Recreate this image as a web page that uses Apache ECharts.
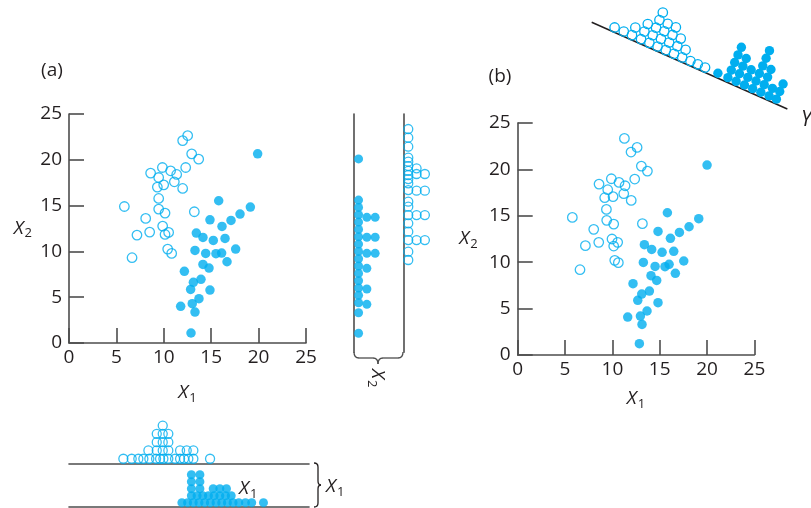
<!DOCTYPE html>
<html><head><meta charset="utf-8">
<script src="https://cdn.jsdelivr.net/npm/echarts@6/dist/echarts.min.js"></script>
<style>html,body{margin:0;padding:0;background:#fff}#c{width:811px;height:508px}</style>
</head><body><div id="c"></div>
<script>
// ---------- data ----------
// panel (a) scatter
const aHollowX1 = [12.52,11.99,12.94,13.68,9.85,8.61,10.72,11.36,12.31,9.46,11.11,9.32,9.99,11.99,9.46,5.84,9.46,10.13,13.22,8.09,9.88,8.51,10.51,10.13,7.17,10.41,10.83,6.65];
const aHollowX2 = [22.65,22.1,20.65,20.07,19.16,18.55,18.8,18.4,19.16,18.07,17.6,17.02,17.27,16.87,15.78,14.9,14.62,14.18,14.33,13.6,12.76,12.11,12.07,11.85,11.78,10.25,9.78,9.31];
const aFilledX1 = [19.9,15.79,19.13,18.04,17.09,14.87,16.14,13.43,14.13,15.22,16.46,13.29,14.42,15.5,16.1,17.58,14.13,14.77,16.67,12.17,13.12,13.92,12.83,14.87,13.71,13.0,11.78,13.29,12.87];
const aFilledX2 = [20.65,15.53,14.84,14.07,13.38,13.45,12.73,12.0,11.53,11.2,11.42,10.11,9.78,9.75,9.82,10.25,8.58,8.18,8.87,7.82,6.62,6.95,5.85,5.78,4.84,4.29,4.0,3.38,1.09];
// panel (b) scatter
const bHollowX1 = [11.27,12.61,11.97,13.06,13.7,9.89,10.7,8.59,11.34,12.36,9.51,10.07,9.19,11.2,11.99,9.37,5.77,9.4,10.14,13.17,8.03,9.96,8.56,10.56,10.14,7.15,10.25,10.63,6.58];
const bHollowX2 = [23.34,22.37,21.87,20.36,19.82,18.99,18.6,18.42,18.24,18.96,17.81,17.06,16.95,17.38,16.66,15.69,14.83,14.51,14.11,14.15,13.54,12.5,12.14,12.14,11.74,11.78,10.2,9.95,9.19];
const bFilledX1 = [20.0,15.81,19.12,18.1,17.08,14.82,16.13,13.38,14.15,15.25,16.48,13.27,14.51,15.56,15.99,17.54,16.65,14.08,14.68,12.18,13.1,13.91,12.68,14.82,13.66,12.96,11.62,13.13,12.85];
const bFilledX2 = [20.47,15.33,14.69,13.82,13.21,13.32,12.57,11.89,11.38,11.06,11.17,9.98,9.55,9.52,9.77,10.13,8.8,8.55,8.04,7.68,6.57,6.89,5.89,5.64,4.74,4.2,4.09,3.3,1.22];
// X2 dot plot (value, stack column)
const x2FilledValues  = [20.1,15.6,14.8,14.0,13.2,12.4,11.6,10.8,10.0,9.2,8.4,7.6,6.8,6.0,5.2,4.4,3.3,1.06, 13.72,11.54,9.79,8.15,5.9,4.22, 13.72,11.54,9.79];
const x2FilledColumns = [0,0,0,0,0,0,0,0,0,0,0,0,0,0,0,0,0,0, 1,1,1,1,1,1, 2,2,2];
const x2HollowValues  = [23.36,22.41,21.43,20.23,19.79,19.32,18.8,18.34,17.9,17.43,16.7,15.43,14.88,13.97,13.07,12.15,11.24,9.97,9.06, 19.07,18.45,16.63,13.97,11.24, 18.45,16.63,13.97,11.24];
const x2HollowColumns = [0,0,0,0,0,0,0,0,0,0,0,0,0,0,0,0,0,0,0, 1,1,1,1,1, 2,2,2,2];
// X1 dot plot (value, stack level)
const x1HollowValues = [5.73,6.61,7.31,7.84,8.47,9.18,9.6,9.95,10.47,11.18,11.71,12.13,12.58,13.11,14.87, 8.37,9.25,9.88,10.47,11.71,12.41,13.11, 9.25,9.88,10.47, 9.25,9.88,10.47, 9.88];
const x1HollowLevels = [0,0,0,0,0,0,0,0,0,0,0,0,0,0,0, 1,1,1,1,1,1,1, 2,2,2, 3,3,3, 4];
const x1FilledValues = [11.9,12.5,13.1,13.7,14.3,14.9,15.5,16.1,16.7,17.3,17.9,18.6,19.26,20.5, 12.9,13.5,14.1,14.7,15.3,15.9,16.5,17.1, 12.9,13.8,15.2,15.9,16.6, 12.9,13.8, 12.9,13.8];
const x1FilledLevels = [0,0,0,0,0,0,0,0,0,0,0,0,0,0, 1,1,1,1,1,1,1,1, 2,2,2,2,2, 3,3, 4,4];
// Y dot plot (value along Y, stack level)
const yHollowValues = [2.69,3.86,4.91,4.91,6.07,6.07,6.07,7.13,7.13,7.13,7.13,7.13,8.18,8.18,8.18,8.18,9.23,9.23,9.23,9.23,10.28,10.28,10.28,11.33,11.33,12.38,13.32,14.25];
const yHollowLevels = [0,0,0,1,0,1,2,0,1,2,3,4,0,1,2,3,0,1,2,3,0,1,2,0,1,0,0,0];
const yFilledValues = [15.89,17.17,17.17,17.17,17.17,17.17,18.22,18.22,18.22,18.22,19.28,19.28,19.28,20.33,20.33,20.33,20.33,20.33,20.33,21.38,21.38,21.38,21.38,22.43,22.43,23.36,23.36,23.36];
const yFilledLevels = [0,0,1,2,3,4,0,1,2,3,0,1,2,0,1,2,3,4,5,0,1,2,3,0,1,0,1,2];
const tickStep = 5;

// ---------- style ----------
const BLUE = '#00aeef', AX = '#4d4d4d', TXT = '#231f20';
const FONT = '"Open Sans", "Noto Sans", sans-serif';
const pairs = (a, b) => a.map((v, i) => [v, b[i]]);

const richAxis = {
  x: {fontSize: 19, fontStyle: 'italic', fontFamily: FONT, color: TXT, lineHeight: 26},
  s: {fontSize: 13, fontFamily: FONT, color: TXT, lineHeight: 26, padding: [10, 0, 0, 1]}
};
const richG = {
  x: {fontSize: 19, fontStyle: 'italic', fontFamily: FONT, fill: TXT, lineHeight: 26},
  s: {fontSize: 13, fontFamily: FONT, fill: TXT, lineHeight: 26, padding: [10, 0, 0, 1]}
};
const lineSt = {color: AX, width: 1.6};
const noGrid = {outerBoundsMode: 'none', containLabel: false};

// geometry
const ST = 8.3;           // stack spacing in dot plots (px)
const STF = 7.0;          // filled X1 stack spacing
const yScaleA = 229 / 25; // px per unit panel (a)
const Y_ANG = 23.9 * Math.PI / 180, Y_LEN = 214, Y_X0 = 591.7, Y_Y0 = 22.3;
const Y_LMIN = -0.55, Y_LMAX = 6;
const Y_H = (Y_LMAX - Y_LMIN) * ST;

function scatterX(gi, gap) {
  return {gridIndex: gi, type: 'value', min: 0, max: 25, interval: tickStep,
    axisLine: {show: true, onZero: false, lineStyle: lineSt},
    axisTick: {show: true, inside: true, length: 15, lineStyle: lineSt},
    axisLabel: {show: true, margin: 5, fontSize: 19, color: TXT, fontFamily: FONT},
    splitLine: {show: false},
    name: '{x|X}{s|1}', nameLocation: 'middle', nameGap: gap, nameTextStyle: {rich: richAxis}};
}
function scatterY(gi, gap) {
  return {gridIndex: gi, type: 'value', min: 0, max: 25, interval: tickStep,
    axisLine: {show: true, onZero: false, lineStyle: lineSt},
    axisTick: {show: true, inside: true, length: 15, lineStyle: lineSt},
    axisLabel: {show: true, margin: 7, fontSize: 19, color: TXT, fontFamily: FONT},
    splitLine: {show: false},
    name: '{x|X}{s|2}', nameLocation: 'middle', nameRotate: 0, nameGap: gap, nameTextStyle: {rich: richAxis}};
}
const hidden = (gi, min, max) => ({gridIndex: gi, type: 'value', min, max, show: false});
const lineOnly = (gi, min, max) => ({gridIndex: gi, type: 'value', min, max,
  axisLine: {show: true, onZero: false, lineStyle: lineSt}, axisTick: {show: false},
  axisLabel: {show: false}, splitLine: {show: false}});

const hollowStyle = {color: 'rgba(255,255,255,0)', borderColor: BLUE, borderWidth: 1.3};
const filledStyle = {color: BLUE, borderWidth: 0};
function sc(xi, data, filled, size) {
  return {type: 'scatter', xAxisIndex: xi, yAxisIndex: xi, data, symbol: 'circle', symbolSize: size || 9.5,
    itemStyle: filled ? filledStyle : hollowStyle, silent: true, z: filled ? 3 : 2};
}
function rotRender(filled) {
  return function (params, api) {
    const p = api.coord([api.value(0), api.value(1)]);
    const o = api.coord([0, Y_LMIN]);
    const dx = p[0] - o[0], dy = p[1] - o[1];
    const c = Math.cos(Y_ANG), s = Math.sin(Y_ANG);
    return {type: 'circle', shape: {cx: o[0] + dx * c - dy * s, cy: o[1] + dx * s + dy * c, r: 4.7},
      style: filled ? {fill: BLUE} : {fill: 'none', stroke: BLUE, lineWidth: 1.3}};
  };
}
// curly brace from segments: ['q', x1,y1,cpx,cpy,x2,y2] or ['l', x1,y1,x2,y2]
function brace(segs, color) {
  return segs.map(s => s[0] === 'q'
    ? {type: 'bezierCurve', silent: true, shape: {x1: s[1], y1: s[2], cpx1: s[3], cpy1: s[4], x2: s[5], y2: s[6]}, style: {fill: null, stroke: color, lineWidth: 1.3}}
    : {type: 'line', silent: true, shape: {x1: s[1], y1: s[2], x2: s[3], y2: s[4]}, style: {stroke: color, lineWidth: 1.3}});
}
const rightBrace = brace([
  ['q', 314, 463, 318, 463, 318, 467], ['l', 318, 467, 318, 481], ['q', 318, 481, 318, 485, 321, 485],
  ['q', 321, 485, 318, 485, 318, 489], ['l', 318, 489, 318, 503], ['q', 318, 503, 318, 507, 314, 507]], TXT);
const bottomBrace = brace([
  ['q', 354, 352, 354, 358, 359, 358], ['l', 359, 358, 373, 358], ['q', 373, 358, 378, 358, 378, 364],
  ['q', 378, 364, 378, 358, 383, 358], ['l', 383, 358, 398, 358], ['q', 398, 358, 403, 358, 403, 352]], AX);

const x1HollowH = (5 + 0.55) * ST, x1FilledH = (5 + 0.62) * STF;
const option = {
  animation: false,
  backgroundColor: '#fff',
  grid: [
    Object.assign({left: 69, top: 114, width: 237, height: 229}, noGrid),
    Object.assign({left: 517.7, top: 123, width: 236.7, height: 232}, noGrid),
    Object.assign({left: 354, top: 114, width: 6 * ST, height: 26 * yScaleA}, noGrid),
    Object.assign({left: 403.7, top: 114, width: 6 * ST, height: 26 * yScaleA}, noGrid),
    Object.assign({left: 69, top: 463.3 - x1HollowH, width: 240, height: x1HollowH}, noGrid),
    Object.assign({left: 69, top: 507 - x1FilledH, width: 240, height: x1FilledH}, noGrid),
    Object.assign({left: Y_X0, top: Y_Y0 - Y_H, width: Y_LEN, height: Y_H}, noGrid)
  ],
  xAxis: [
    scatterX(0, 37), scatterX(1, 31),
    hidden(2, -0.55, 5.45), hidden(3, -0.55, 5.45),
    lineOnly(4, 0, 25.3), lineOnly(5, 0, 25.3),
    hidden(6, 0, 25)
  ],
  yAxis: [
    scatterY(0, 37), scatterY(1, 40),
    lineOnly(2, -1, 25), lineOnly(3, -1, 25),
    hidden(4, -0.55, 5), hidden(5, -0.62, 5),
    hidden(6, Y_LMIN, Y_LMAX)
  ],
  series: [
    sc(0, pairs(aHollowX1, aHollowX2), false),
    sc(0, pairs(aFilledX1, aFilledX2), true),
    sc(1, pairs(bHollowX1, bHollowX2), false),
    sc(1, pairs(bFilledX1, bFilledX2), true),
    sc(2, pairs(x2FilledColumns, x2FilledValues), true, 9),
    sc(3, pairs(x2HollowColumns, x2HollowValues), false, 9),
    sc(4, pairs(x1HollowValues, x1HollowLevels), false, 9),
    sc(5, pairs(x1FilledValues, x1FilledLevels), true, 9),
    {type: 'custom', coordinateSystem: 'cartesian2d', xAxisIndex: 6, yAxisIndex: 6, silent: true,
      data: pairs(yHollowValues, yHollowLevels), renderItem: rotRender(false)},
    {type: 'custom', coordinateSystem: 'cartesian2d', xAxisIndex: 6, yAxisIndex: 6, silent: true,
      data: pairs(yFilledValues, yFilledLevels), renderItem: rotRender(true)}
  ],
  graphic: [
    {type: 'line', silent: true, shape: {x1: Y_X0, y1: Y_Y0, x2: Y_X0 + Y_LEN * Math.cos(Y_ANG), y2: Y_Y0 + Y_LEN * Math.sin(Y_ANG)},
      style: {stroke: TXT, lineWidth: 1.5}},
    {type: 'text', x: 52, y: 71, silent: true, style: {text: '(a)', fontSize: 19, fontFamily: FONT, fill: TXT, align: 'center', verticalAlign: 'middle'}},
    {type: 'text', x: 500, y: 77, silent: true, style: {text: '(b)', fontSize: 19, fontFamily: FONT, fill: TXT, align: 'center', verticalAlign: 'middle'}},
    {type: 'text', x: 239, y: 489, silent: true, style: {text: '{x|X}{s|1}', rich: richG, align: 'left', verticalAlign: 'middle'}},
    {type: 'text', x: 326, y: 487, silent: true, style: {text: '{x|X}{s|1}', rich: richG, align: 'left', verticalAlign: 'middle'}},
    {type: 'text', x: 377, y: 369, rotation: -Math.PI / 2, silent: true, style: {text: '{x|X}{s|2}', rich: richG, align: 'left', verticalAlign: 'middle'}},
    {type: 'text', x: 801, y: 120, silent: true, style: {text: 'Y', fontSize: 21, fontStyle: 'italic', fontFamily: FONT, fill: TXT, align: 'left', verticalAlign: 'middle'}}
  ].concat(rightBrace, bottomBrace)
};
const chart = echarts.init(document.getElementById('c'), null, {renderer: 'canvas'});
chart.setOption(option);
</script></body></html>
